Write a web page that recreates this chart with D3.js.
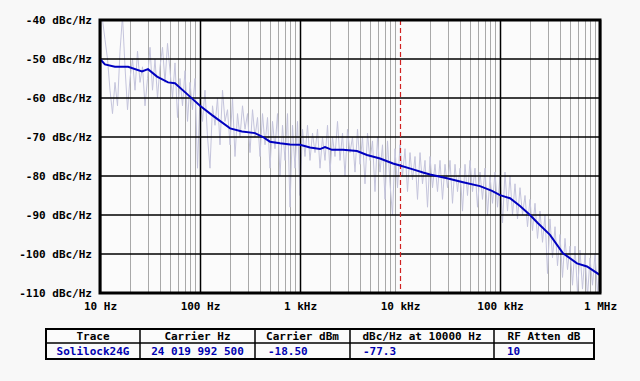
<!DOCTYPE html>
<html><head><meta charset="utf-8">
<script src="https://cdn.jsdelivr.net/npm/d3@7"></script>
<style>
html,body{margin:0;padding:0;background:#f8f8f8;}
svg{display:block;}
text{font-family:"DejaVu Sans Mono",monospace;font-weight:bold;font-size:11px;}
</style></head><body>
<svg id="c" width="640" height="381"></svg>
<script>
// ---- data ----
const yTicks = [-40, -50, -60, -70, -80, -90, -100, -110];
const xTicks = [10, 100, 1000, 10000, 100000, 1000000];
const xTickLabels = ["10 Hz", "100 Hz", "1 kHz", "10 kHz", "100 kHz", "1 MHz"];
const markerHz = 10000;

const smoothHz = [10, 11.2, 14.1, 19.1, 26.3, 30.2, 37.2, 47.9, 56.2, 75.9, 100, 132, 200, 263, 355, 427, 501, 631, 794, 1000, 1259, 1585, 1778, 2089, 2692, 3715, 4677, 6310, 8511, 10000, 13490, 16982, 19953, 29512, 42658, 63096, 83176, 100000, 125893, 158489, 199526, 239883, 316228, 426580, 588844, 741310, 1000000];
const smoothDbc = [-50, -51.4, -52, -52, -53.2, -52.6, -54.5, -56, -56.2, -59.2, -62, -64.4, -67.8, -68.6, -69, -70, -71.2, -71.6, -71.9, -72, -72.7, -73.1, -72.6, -73.3, -73.3, -73.6, -74.6, -75.5, -76.8, -77.3, -78.3, -79.1, -79.6, -80.6, -81.6, -82.6, -83.8, -84.9, -85.7, -87.7, -90, -92.1, -95.1, -99.8, -102.4, -103.2, -105.4];

// raw sweep: log-spaced points from rawStartHz to rawStopHz
const rawStartHz = 10, rawStopHz = 1000000;
const rawDbc = [
 -38, -40, -45, -50, -58, -64, -56, -62, -48, -39, -52, -63, -55, -50, -58, -48, -56, -52, -62, -55,
 -47, -58, -50, -60, -52, -47, -56, -46, -53, -60, -51, -65, -55, -62, -53, -66, -56, -63, -55, -78,
 -60, -66, -58, -70, -78, -62, -67, -60, -72, -58, -66, -63, -72, -60, -75, -64, -70, -62, -68, -64,
 -74, -63, -70, -65, -75, -64, -72, -65, -78, -66, -73, -64, -80, -67, -76, -64, -88, -67, -78, -66,
 -85, -68, -75, -67, -76, -69, -74, -68, -78, -70, -76, -67, -79, -70, -75, -66, -76, -69, -80, -68,
 -74, -70, -79, -68, -77, -70, -82, -69, -76, -71, -84, -70, -79, -72, -86, -71, -82, -90, -73, -83,
 -72, -80, -73, -84, -74, -81, -75, -86, -74, -82, -76, -88, -75, -83, -77, -84, -76, -86, -77, -83,
 -76, -87, -77, -84, -78, -89, -77, -85, -76, -84, -78, -88, -79, -86, -78, -90, -80, -87, -79, -88,
 -80, -92, -79, -89, -80, -90, -82, -91, -83, -90, -85, -93, -86, -94, -87, -96, -89, -97, -90, -105,
 -91, -101, -93, -103, -95, -106, -96, -104, -98, -108, -98, -110, -99, -109, -100, -111, -101, -108, -100, -110, -103
];

const tableHeaders = ["Trace", "Carrier Hz", "Carrier dBm", "dBc/Hz at 10000 Hz", "RF Atten dB"];
const tableValues = ["Solilock24G", "24 019 992 500", "-18.50", "-77.3", "10"];

// ---- layout ----
const L = 100, R = 600, T = 20, B = 293;
const svg = d3.select("#c");
const x = d3.scaleLog().domain([10, 1000000]).range([L, R]);
const y = d3.scaleLinear().domain([-110, -40]).range([B, T]);

svg.append("rect").attr("x", L).attr("y", T).attr("width", R - L).attr("height", B - T).attr("fill", "#fbfbfb");

svg.append("clipPath").attr("id", "pc").append("rect")
  .attr("x", L).attr("y", T).attr("width", R - L).attr("height", B - T);

// minor grid
const minor = [];
for (let d = 10; d < 1000000; d *= 10) for (let m = 2; m <= 9; m++) minor.push(d * m);
svg.append("g").selectAll("line").data(minor).join("line")
  .attr("x1", d => Math.round(x(d)) + 0.5).attr("x2", d => Math.round(x(d)) + 0.5)
  .attr("y1", T).attr("y2", B).attr("stroke", "#a8a8a8").attr("stroke-width", 1);

// raw trace
const n = rawDbc.length;
const rawPts = rawDbc.map((v, i) => [rawStartHz * Math.pow(rawStopHz / rawStartHz, i / (n - 1)), v]);
svg.append("path").datum(rawPts).attr("clip-path", "url(#pc)")
  .attr("d", d3.line().x(d => x(d[0])).y(d => y(d[1])))
  .attr("fill", "none").attr("stroke", "#c4c4dc").attr("stroke-width", 1);

// major grid (marker frequency gets the dashed red line instead)
svg.append("g").selectAll("line").data(xTicks.filter(d => d !== markerHz)).join("line")
  .attr("x1", d => Math.round(x(d)) + 0.5).attr("x2", d => Math.round(x(d)) + 0.5)
  .attr("y1", T).attr("y2", B).attr("stroke", "#000").attr("stroke-width", 1.5);
svg.append("g").selectAll("line").data(yTicks).join("line")
  .attr("x1", L).attr("x2", R)
  .attr("y1", d => y(d)).attr("y2", d => y(d)).attr("stroke", "#000").attr("stroke-width", 1.5);

// marker
svg.append("line").attr("x1", Math.round(x(markerHz)) + 0.5).attr("x2", Math.round(x(markerHz)) + 0.5).attr("y1", T).attr("y2", B)
  .attr("stroke", "#d02020").attr("stroke-width", 1.2).attr("stroke-dasharray", "5,3");

// smooth trace
svg.append("path").datum(smoothHz.map((h, i) => [h, smoothDbc[i]])).attr("clip-path", "url(#pc)")
  .attr("d", d3.line().x(d => x(d[0])).y(d => y(d[1])))
  .attr("fill", "none").attr("stroke", "#0000c0").attr("stroke-width", 2);

// border
svg.append("rect").attr("x", L).attr("y", T).attr("width", R - L).attr("height", B - T)
  .attr("fill", "none").attr("stroke", "#000").attr("stroke-width", 3);

// axes labels
const ya = svg.append("g").attr("transform", `translate(${L - 8},0)`)
  .call(d3.axisLeft(y).tickValues(yTicks).tickSize(0).tickFormat(d => d + " dBc/Hz"));
ya.select(".domain").remove();
ya.selectAll("text").attr("fill", "#000").attr("x", 0).attr("dy", "0.35em");

const xa = svg.append("g").attr("transform", `translate(0,${B + 6})`)
  .call(d3.axisBottom(x).tickValues(xTicks).tickSize(0).tickFormat((d, i) => xTickLabels[i]));
xa.select(".domain").remove();
xa.selectAll("text").attr("fill", "#000").attr("y", 3).attr("dy", "0.71em");

// table
const colEdges = [46, 140, 255, 350, 494, 594];
const align = ["middle", "middle", "start", "start", "start"];
const tT = 329, tM = 343, tB = 359;
const tg = svg.append("g");
tg.append("rect").attr("x", colEdges[0]).attr("y", tT).attr("width", colEdges[5] - colEdges[0]).attr("height", tB - tT)
  .attr("fill", "#fbfbfb").attr("stroke", "#000").attr("stroke-width", 2);
tg.append("line").attr("x1", colEdges[0]).attr("x2", colEdges[5]).attr("y1", tM).attr("y2", tM).attr("stroke", "#000").attr("stroke-width", 1.5);
tg.selectAll("line.c").data(colEdges.slice(1, 5)).join("line").attr("class", "c")
  .attr("x1", d => d).attr("x2", d => d).attr("y1", tT).attr("y2", tB).attr("stroke", "#000").attr("stroke-width", 1.5);
tg.selectAll("text.h").data(tableHeaders).join("text").attr("class", "h")
  .attr("x", (d, i) => (colEdges[i] + colEdges[i + 1]) / 2).attr("y", (tT + tM) / 2).attr("dy", "0.35em")
  .attr("text-anchor", "middle").attr("fill", "#000").text(d => d);
tg.selectAll("text.v").data(tableValues).join("text").attr("class", "v")
  .attr("x", (d, i) => align[i] === "middle" ? (colEdges[i] + colEdges[i + 1]) / 2 : colEdges[i] + 13)
  .attr("y", (tM + tB) / 2).attr("dy", "0.35em")
  .attr("text-anchor", (d, i) => align[i]).attr("fill", "#0000b0").text(d => d);
</script>
</body></html>
